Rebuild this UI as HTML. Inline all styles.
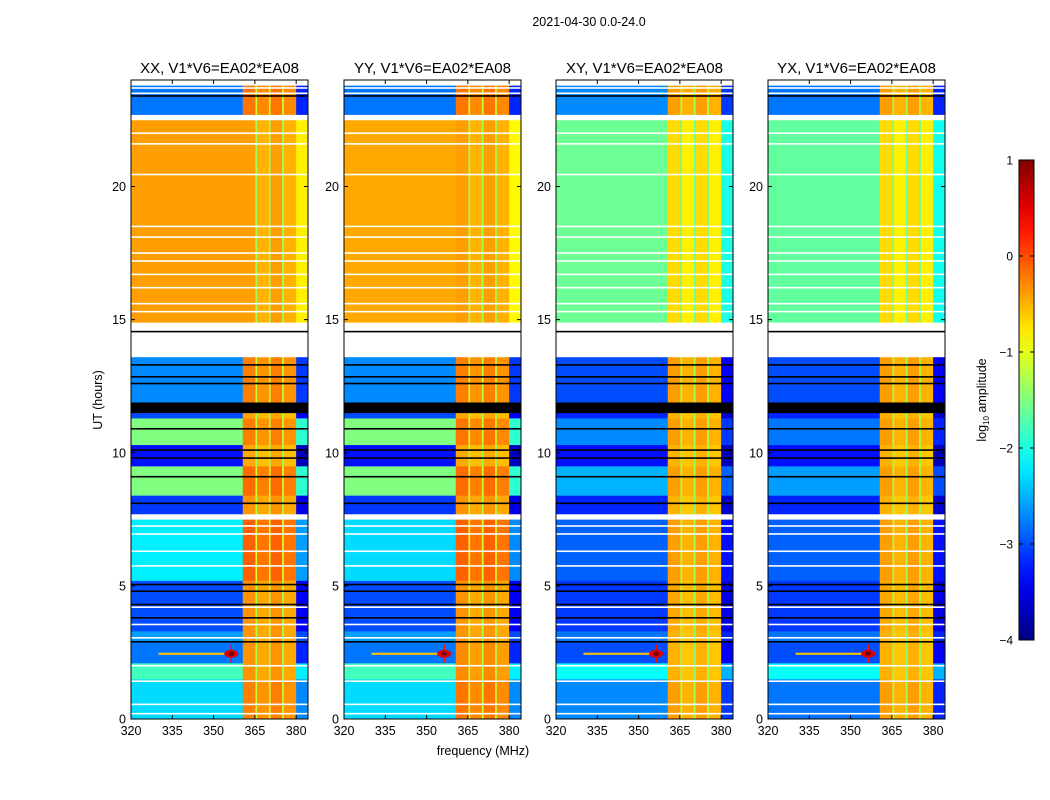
<!DOCTYPE html>
<html><head><meta charset="utf-8"><style>
body{margin:0;background:#fff;}
svg{display:block;font-family:"Liberation Sans","DejaVu Sans",sans-serif;}
</style></head><body>
<svg id="fig" width="1050" height="800" viewBox="0 0 1050 800">
<text x="589" y="26" font-size="12.5" text-anchor="middle">2021-04-30 0.0-24.0</text>
<text x="102" y="400" font-size="12.5" text-anchor="middle" transform="rotate(-90 102 400)">UT (hours)</text>
<text x="483" y="755" font-size="12.5" text-anchor="middle">frequency (MHz)</text>
<g id="panels"></g>
<g id="cbar"></g>
</svg>
<script>
const panelTitles = ["XX, V1*V6=EA02*EA08","YY, V1*V6=EA02*EA08","XY, V1*V6=EA02*EA08","YX, V1*V6=EA02*EA08"];
const xTicks = [320,335,350,365,380];
const yTicks = [0,5,10,15,20];
const cbarTicks = [1,0,-1,-2,-3,-4];
// time segments (hours)
const segStart = [0,1.5,2.1,2.9,3.3,5.2,7.5,7.7,8.4,9.5,10.3,11.3,11.5,11.9,13.6,14.9,22.5,22.7,23.8];
const segEnd   = [1.5,2.1,2.9,3.3,5.2,7.5,7.7,8.4,9.5,10.3,11.3,11.5,11.9,13.6,14.9,22.5,22.7,23.8,24];
// log10 amplitude per segment: "W" = flagged (white), "K" = black
const lowXX  = [-2.3,-1.8,-2.8,-2.6,-3.0,-2.2,"W",-3.1,-1.5,-3.3,-1.5,-3.0,"K",-2.7,"W",-0.4,"W",-2.8,"W"];
const bandXX = [-0.3,-0.4,-0.4,-0.4,-0.4,-0.15,"W",-0.4,-0.2,-0.5,-0.3,-0.5,"K",-0.3,"W",-0.45,"W",-0.25,"W"];
const lowYY  = [-2.3,-1.8,-2.8,-2.6,-3.0,-2.3,"W",-3.1,-1.5,-3.3,-1.5,-3.0,"K",-2.7,"W",-0.45,"W",-2.8,"W"];
const bandYY = [-0.25,-0.35,-0.35,-0.4,-0.4,-0.15,"W",-0.4,-0.2,-0.5,-0.25,-0.5,"K",-0.3,"W",-0.45,"W",-0.25,"W"];
const lowXY  = [-2.7,-2.1,-3.0,-2.8,-3.1,-2.9,"W",-3.2,-2.5,-3.3,-2.7,-3.2,"K",-3.0,"W",-1.6,"W",-2.7,"W"];
const bandXY = [-0.45,-0.55,-0.55,-0.55,-0.5,-0.45,"W",-0.55,-0.45,-0.55,-0.45,-0.55,"K",-0.45,"W",-0.75,"W",-0.45,"W"];
const lowYX  = [-2.8,-2.1,-3.0,-2.8,-3.1,-2.9,"W",-3.2,-2.6,-3.3,-2.8,-3.2,"K",-3.0,"W",-1.65,"W",-2.8,"W"];
const bandYX = [-0.45,-0.55,-0.55,-0.55,-0.5,-0.45,"W",-0.55,-0.45,-0.55,-0.45,-0.55,"K",-0.45,"W",-0.75,"W",-0.45,"W"];
// frequency columns (MHz) and kind: L=low band, B=bright band, G=gap, E=edge
const freqStart = [320,360.6,365.2,365.8,370.1,370.7,374.9,375.5,380.0];
const freqEnd   = [360.6,365.2,365.8,370.1,370.7,374.9,375.5,380.0,384];
const freqKind  = ["L","B","G","B","G","B","G","B","E"];
const freqOff   = [0,0.05,-0.9,-0.05,-0.9,0.05,-0.9,-0.05,-0.4];
// thin flagged lines (hours)
const whiteLines = [0.2,0.55,1.42,2.0,3.05,3.55,4.2,5.75,6.3,6.95,7.25,15.3,15.6,16.2,16.7,17.2,17.5,18.1,18.5,20.45,21.6,22.0,23.5,23.7];
const blackLines = [2.9,3.8,4.3,4.8,5.05,8.1,9.1,9.8,10.1,10.9,12.6,12.85,13.3,14.55,23.4];
const rfiTime = 2.45, rfiFreq = 356.4;

const lows=[lowXX,lowYY,lowXY,lowYX], bands=[bandXX,bandYY,bandXY,bandYX];
const panelLeft=[131,344,556,768], PW=177, PT=80, PB=719;
const FMIN=320, FMAX=384.3, TMIN=0, TMAX=24;
const NS="http://www.w3.org/2000/svg";
function jet(v){let t=Math.max(0,Math.min(1,(v+4)/5));const c=x=>Math.round(255*Math.max(0,Math.min(1,x)));
 return `rgb(${c(1.5-Math.abs(4*t-3))},${c(1.5-Math.abs(4*t-2))},${c(1.5-Math.abs(4*t-1))})`;}
function mk(tag,attrs,parent){const e=document.createElementNS(NS,tag);for(const k in attrs)e.setAttribute(k,attrs[k]);parent.appendChild(e);return e;}
const root=document.getElementById('panels');
panelTitles.forEach((title,p)=>{
 const L=panelLeft[p];
 const xs=f=>L+(f-FMIN)/(FMAX-FMIN)*PW;
 const ys=t=>PB-(t-TMIN)/(TMAX-TMIN)*(PB-PT);
 const g=mk('g',{},root);
 
 
 for(let s=0;s<segStart.length;s++){
  for(let c=0;c<freqStart.length;c++){
   const lv=lows[p][s], bv=bands[p][s];
   let fill;
   if(lv==="W") fill="#fff"; else if(lv==="K") fill="#000";
   else { const k=freqKind[c]; const base=(k==="B"||k==="G")?bv:lv; fill=jet(base+freqOff[c]); }
   const r=mk('rect',{x:xs(freqStart[c]),y:ys(segEnd[s]),width:xs(freqEnd[c])-xs(freqStart[c])+0.3,height:ys(segStart[s])-ys(segEnd[s])+0.3,fill},g);
   
   
  }
 }
 whiteLines.forEach(t=>{const r=mk('rect',{x:L,y:ys(t)-0.8,width:PW,height:1.6,fill:'#fff'},g);
  });
 blackLines.forEach(t=>{const r=mk('rect',{x:L,y:ys(t)-0.8,width:PW,height:1.6,fill:'#000'},g);
  });
 // RFI
 const rl=mk('rect',{x:xs(330),y:ys(rfiTime)-1,width:xs(rfiFreq)-xs(330),height:2,fill:jet(-0.6)},g);
 
 const rv=mk('rect',{x:xs(rfiFreq)-0.8,y:ys(rfiTime)-9,width:1.6,height:18,fill:jet(0.3)},g);
 
 const re=mk('ellipse',{cx:xs(rfiFreq),cy:ys(rfiTime),rx:7,ry:4,fill:jet(0.5)},g);
 
 const rc=mk('ellipse',{cx:xs(rfiFreq),cy:ys(rfiTime),rx:3,ry:2.5,fill:jet(1)},g);
 
 const fr=mk('rect',{x:L,y:PT,width:PW,height:PB-PT,fill:'none',stroke:'#000','stroke-width':1},g);
 
 const tt=mk('text',{x:L+PW/2,y:73,'font-size':15,'text-anchor':'middle'},g);tt.textContent=title;
 
 xTicks.forEach(f=>{const x=xs(f);
  mk('line',{x1:x,x2:x,y1:PB,y2:PB-4,stroke:'#000'},g);mk('line',{x1:x,x2:x,y1:PT,y2:PT+4,stroke:'#000'},g);
  const t=mk('text',{x:x,y:PB+16,'font-size':12.5,'text-anchor':'middle'},g);t.textContent=f;
  });
 yTicks.forEach(v=>{const y=ys(v);
  mk('line',{x1:L,x2:L+4,y1:y,y2:y,stroke:'#000'},g);mk('line',{x1:L+PW,x2:L+PW-4,y1:y,y2:y,stroke:'#000'},g);
  const t=mk('text',{x:L-5,y:y+4.5,'font-size':12.5,'text-anchor':'end'},g);t.textContent=v;
  });
});
// colorbar
const cb=document.getElementById('cbar');
const defs=mk('defs',{},cb);const lg=mk('linearGradient',{id:'jetg',x1:0,y1:1,x2:0,y2:0},defs);
for(let i=0;i<=20;i++){mk('stop',{offset:i/20,'stop-color':jet(-4+5*i/20)},lg);}
const CT=160,CB=640,CX=1019,CW=15;
const cy=v=>CB-(v+4)/5*(CB-CT);
const cr=mk('rect',{x:CX,y:CT,width:CW,height:CB-CT,fill:'url(#jetg)',stroke:'#000'},cb);

cbarTicks.forEach(v=>{const y=cy(v);
 mk('line',{x1:CX,x2:CX+4,y1:y,y2:y,stroke:'#000'},cb);mk('line',{x1:CX+CW,x2:CX+CW-4,y1:y,y2:y,stroke:'#000'},cb);
 const t=mk('text',{x:1013,y:y+4.5,'font-size':12,'text-anchor':'end'},cb);t.textContent=String(v).replace('-','\u2212');
 });
const ct=mk('text',{x:986,y:400,'font-size':12.5,'text-anchor':'middle',transform:'rotate(-90 986 400)'},cb);
ct.innerHTML='log<tspan font-size="8" dy="3">10</tspan><tspan dy="-3"> amplitude</tspan>';

</script>
</body></html>
